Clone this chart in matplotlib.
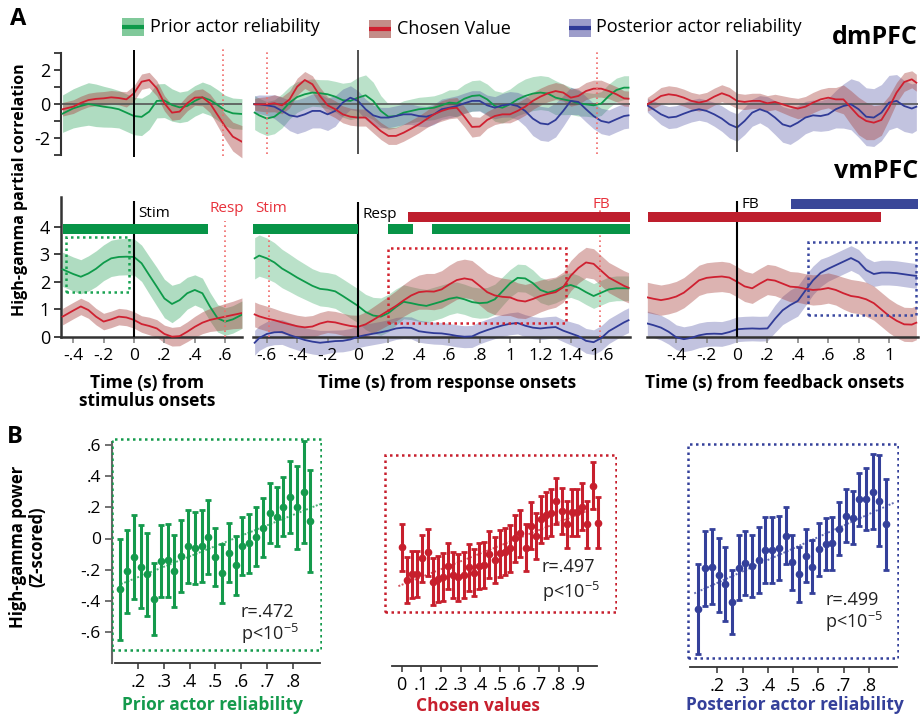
import matplotlib.pyplot as plt
import numpy as np
from matplotlib.patches import Rectangle

plt.rcParams['font.family'] = ['Open Sans', 'DejaVu Sans']
plt.rcParams['mathtext.fontset'] = 'custom'
plt.rcParams['mathtext.rm'] = 'Open Sans'
plt.rcParams['mathtext.it'] = 'Open Sans:italic'
plt.rcParams['mathtext.bf'] = 'Open Sans:bold'

# ---------------- data: panel A (time courses) ----------------
# stimulus-locked
t_stim = [-0.47, -0.40, -0.35, -0.30, -0.25, -0.20, -0.15, -0.10, -0.05, 0.00, 0.05, 0.10,
          0.15, 0.20, 0.25, 0.30, 0.35, 0.40, 0.45, 0.50, 0.55, 0.60, 0.65, 0.71]
dm_green_stim = [-0.55, -0.24, -0.10, 0.02, -0.06, -0.14, -0.20, -0.29, -0.49, -0.69, -0.74, -0.43,
                 0.20, 0.22, -0.04, -0.18, -0.10, 0.20, 0.41, 0.25, -0.04, -0.37, -0.53, -0.57]
dm_green_stim_sem = [1.1, 1.15, 1.2, 1.25, 1.25, 1.2, 1.15, 1.1, 1.1, 1.1, 1.1, 1.05,
                     1.0, 1.0, 0.95, 0.9, 0.9, 0.9, 0.9, 0.9, 0.9, 0.9, 0.9, 0.9]
dm_red_stim = [-0.29, -0.14, 0.08, 0.25, 0.32, 0.35, 0.41, 0.37, 0.29, 0.65, 1.33, 1.43,
               0.94, 0.06, -0.49, -0.43, 0.06, 0.39, 0.41, 0.06, -0.63, -1.31, -1.90, -2.20]
dm_red_stim_sem = [0.4, 0.4, 0.4, 0.4, 0.4, 0.4, 0.4, 0.4, 0.45, 0.45, 0.45, 0.45,
                   0.45, 0.45, 0.45, 0.45, 0.45, 0.45, 0.5, 0.55, 0.65, 0.75, 0.85, 0.95]
vm_green_stim = [2.45, 2.28, 2.18, 2.30, 2.47, 2.69, 2.85, 2.90, 2.91, 2.90, 2.67, 2.24,
                 1.82, 1.39, 1.19, 1.33, 1.58, 1.70, 1.58, 1.09, 0.67, 0.55, 0.63, 0.80]
vm_green_stim_sem = [0.62, 0.62, 0.62, 0.64, 0.65, 0.65, 0.66, 0.66, 0.66, 0.66, 0.66, 0.68,
                     0.7, 0.7, 0.68, 0.62, 0.58, 0.55, 0.55, 0.52, 0.5, 0.5, 0.5, 0.5]
vm_red_stim = [0.73, 0.95, 1.10, 0.97, 0.73, 0.55, 0.63, 0.73, 0.70, 0.61, 0.46, 0.39,
               0.30, 0.10, 0.00, 0.02, 0.18, 0.36, 0.51, 0.61, 0.67, 0.73, 0.79, 0.86]
vm_red_stim_sem = [0.3, 0.3, 0.3, 0.3, 0.3, 0.3, 0.3, 0.3, 0.3, 0.3, 0.3, 0.32,
                   0.32, 0.32, 0.34, 0.35, 0.36, 0.38, 0.4, 0.42, 0.45, 0.48, 0.5, 0.55]

# response-locked
t_resp = [-0.68, -0.65, -0.60, -0.55, -0.50, -0.45, -0.40, -0.35, -0.30, -0.25, -0.20, -0.15,
          -0.10, -0.05, 0.00, 0.05, 0.10, 0.15, 0.20, 0.25, 0.30, 0.35, 0.40, 0.45, 0.50, 0.55,
          0.60, 0.65, 0.70, 0.75, 0.80, 0.85, 0.90, 0.95, 1.00, 1.05, 1.10, 1.15, 1.20, 1.25,
          1.30, 1.35, 1.40, 1.45, 1.50, 1.55, 1.60, 1.65, 1.70, 1.75, 1.78]
dm_red_resp = [0, 0, 0, 0.06, -0.06, 0.29, 1.04, 1.43, 1.18, 0.49, -0.06, -0.29,
               -0.59, -0.73, -0.78, -0.78, -1.18, -1.57, -1.86, -1.86, -1.67, -1.43, -1.18, -0.88, -0.59, -0.39,
               -0.25, -0.20, -0.73, -1.33, -1.31, -0.92, -0.69, -0.59, -0.59, -0.39, -0.14, 0.20, 0.45, 0.65,
               0.78, 0.69, 0.39, 0.49, 0.78, 0.92, 0.92, 0.78, 0.59, 0.35, 0.33]
dm_red_resp_sem = [0.35, 0.4, 0.45, 0.5, 0.5, 0.5, 0.5, 0.5, 0.5, 0.5, 0.5, 0.5,
                   0.5, 0.5, 0.5, 0.5, 0.5, 0.5, 0.5, 0.5, 0.5, 0.5, 0.5, 0.5, 0.55, 0.6,
                   0.6, 0.6, 0.6, 0.6, 0.55, 0.5, 0.5, 0.5, 0.5, 0.5, 0.5, 0.5, 0.5, 0.5,
                   0.5, 0.5, 0.5, 0.5, 0.5, 0.5, 0.5, 0.45, 0.45, 0.45, 0.45]
dm_green_resp = [-0.49, -0.65, -0.84, -0.73, -0.39, 0.10, 0.43, 0.59, 0.69, 0.65, 0.59, 0.45,
                 0.24, 0.20, 0.39, 0.53, 0.20, -0.39, -0.73, -0.69, -0.49, -0.39, -0.29, -0.25, -0.20, -0.06,
                 0.10, 0.06, 0.33, 0.49, 0.53, 0.29, -0.10, -0.20, 0.00, 0.29, 0.49, 0.63, 0.69, 0.63,
                 0.39, 0.29, 0.20, 0.06, 0.00, -0.06, 0.04, 0.49, 0.84, 0.98, 0.98]
dm_green_resp_sem = [1.0, 1.0, 1.0, 1.0, 1.0, 0.95, 0.9, 0.85, 0.8, 0.8, 0.85, 0.9,
                     1.0, 1.1, 1.2, 1.2, 1.1, 0.9, 0.75, 0.7, 0.7, 0.7, 0.7, 0.7, 0.7, 0.7,
                     0.75, 0.8, 0.85, 0.9, 0.9, 0.9, 0.9, 0.9, 0.9, 0.95, 1.0, 1.0, 1.0, 1.0,
                     1.0, 0.9, 0.8, 0.75, 0.7, 0.7, 0.7, 0.7, 0.7, 0.7, 0.7]
dm_blue_resp = [0, 0, -0.06, -0.14, -0.39, -0.65, -0.73, -0.59, -0.39, -0.39, -0.59, -0.39,
                0.10, 0.39, 0.20, -0.29, -0.65, -0.78, -0.78, -0.69, -0.59, -0.59, -0.69, -0.73, -0.59, -0.29,
                -0.20, -0.10, 0.06, 0.20, 0.20, -0.06, -0.20, -0.06, 0.00, -0.10, -0.39, -0.84, -1.12, -1.18,
                -0.92, -0.39, 0.20, 0.14, -0.29, -0.69, -0.98, -1.08, -0.88, -0.69, -0.65]
dm_blue_resp_sem = [0.5, 0.55, 0.6, 0.7, 0.8, 0.9, 1.0, 1.0, 1.0, 1.0, 0.95, 0.9,
                    0.8, 0.7, 0.6, 0.6, 0.6, 0.6, 0.6, 0.6, 0.6, 0.6, 0.6, 0.6, 0.6, 0.6,
                    0.6, 0.6, 0.6, 0.6, 0.6, 0.6, 0.65, 0.7, 0.75, 0.8, 0.9, 1.0, 1.0, 1.0,
                    1.0, 0.9, 0.8, 0.75, 0.75, 0.75, 0.75, 0.75, 0.75, 0.75, 0.75]
vm_green_resp = [2.85, 2.95, 2.85, 2.70, 2.48, 2.32, 2.15, 2.00, 1.85, 1.74, 1.71, 1.65,
                 1.48, 1.30, 1.12, 0.90, 0.77, 0.73, 0.86, 1.08, 1.27, 1.22, 1.16, 1.12, 1.20, 1.28,
                 1.38, 1.43, 1.36, 1.26, 1.22, 1.24, 1.36, 1.65, 1.94, 2.14, 2.12, 1.95, 1.70, 1.60,
                 1.68, 1.82, 1.88, 1.78, 1.62, 1.48, 1.60, 1.72, 1.76, 1.76, 1.76]
vm_green_resp_sem = [0.75, 0.75, 0.74, 0.72, 0.7, 0.68, 0.66, 0.64, 0.62, 0.62, 0.62, 0.62,
                     0.62, 0.62, 0.62, 0.64, 0.66, 0.68, 0.68, 0.66, 0.62, 0.6, 0.6, 0.6, 0.6, 0.6,
                     0.58, 0.56, 0.55, 0.55, 0.55, 0.55, 0.55, 0.52, 0.5, 0.5, 0.5, 0.48, 0.46, 0.45,
                     0.45, 0.45, 0.45, 0.45, 0.45, 0.45, 0.45, 0.45, 0.45, 0.45, 0.45]
vm_red_resp = [0.81, 0.74, 0.66, 0.60, 0.52, 0.45, 0.38, 0.34, 0.37, 0.48, 0.55, 0.52,
               0.45, 0.39, 0.36, 0.45, 0.61, 0.78, 0.95, 1.12, 1.32, 1.50, 1.62, 1.65, 1.64, 1.72,
               1.90, 2.06, 2.12, 2.07, 1.85, 1.62, 1.50, 1.45, 1.43, 1.32, 1.28, 1.37, 1.48, 1.56,
               1.62, 1.80, 2.22, 2.50, 2.70, 2.65, 2.40, 2.15, 2.00, 1.85, 1.78]
vm_red_resp_sem = [0.45, 0.45, 0.45, 0.42, 0.4, 0.4, 0.4, 0.4, 0.4, 0.4, 0.4, 0.4,
                   0.4, 0.4, 0.42, 0.45, 0.48, 0.5, 0.52, 0.55, 0.58, 0.6, 0.62, 0.65, 0.66, 0.68,
                   0.7, 0.7, 0.7, 0.7, 0.7, 0.7, 0.7, 0.68, 0.66, 0.64, 0.62, 0.6, 0.58, 0.56,
                   0.55, 0.55, 0.55, 0.55, 0.55, 0.55, 0.55, 0.55, 0.55, 0.55, 0.55]
vm_blue_resp = [-0.22, -0.05, 0.10, 0.16, 0.17, 0.06, -0.03, -0.12, -0.18, -0.22, -0.19, -0.16,
                -0.15, -0.10, 0.00, 0.06, 0.11, 0.16, 0.22, 0.30, 0.33, 0.32, 0.20, 0.16, 0.13, 0.12,
                0.08, 0.03, 0.00, 0.01, 0.14, 0.24, 0.33, 0.41, 0.47, 0.50, 0.40, 0.33, 0.30, 0.33,
                0.35, 0.22, 0.12, 0.02, -0.15, -0.20, -0.05, 0.20, 0.36, 0.52, 0.60]
vm_blue_resp_sem = [0.45, 0.45, 0.45, 0.45, 0.45, 0.45, 0.45, 0.45, 0.45, 0.45, 0.42, 0.4,
                    0.4, 0.4, 0.4, 0.4, 0.4, 0.4, 0.4, 0.4, 0.4, 0.4, 0.4, 0.4, 0.4, 0.4,
                    0.4, 0.4, 0.4, 0.4, 0.4, 0.4, 0.4, 0.4, 0.4, 0.4, 0.4, 0.4, 0.4, 0.4,
                    0.4, 0.4, 0.42, 0.44, 0.45, 0.45, 0.45, 0.45, 0.45, 0.45, 0.45]

# feedback-locked
t_fb = [-0.59, -0.55, -0.50, -0.45, -0.40, -0.35, -0.30, -0.25, -0.20, -0.15, -0.10, -0.05,
        0.00, 0.05, 0.10, 0.15, 0.20, 0.25, 0.30, 0.35, 0.40, 0.45, 0.50, 0.55, 0.60, 0.65,
        0.70, 0.75, 0.80, 0.85, 0.90, 0.95, 1.00, 1.05, 1.10, 1.15, 1.18]
dm_red_fb = [0.00, 0.20, 0.49, 0.59, 0.53, 0.39, 0.20, 0.10, 0.20, 0.45, 0.65, 0.49,
             0.20, 0.14, 0.20, 0.20, 0.06, 0.14, 0.00, -0.14, -0.25, -0.14, 0.10, 0.29, 0.39, 0.29,
             0.29, -0.20, -0.69, -0.98, -1.08, -0.92, -0.20, 0.69, 1.31, 1.47, 1.27]
dm_red_fb_sem = [0.4, 0.45, 0.5, 0.5, 0.5, 0.5, 0.5, 0.5, 0.5, 0.5, 0.5, 0.5,
                 0.45, 0.45, 0.45, 0.45, 0.45, 0.45, 0.5, 0.55, 0.6, 0.6, 0.6, 0.6, 0.6, 0.7,
                 0.85, 1.0, 1.1, 1.1, 1.0, 0.9, 0.7, 0.6, 0.55, 0.5, 0.5]
dm_blue_fb = [-0.06, -0.29, -0.59, -0.78, -0.73, -0.55, -0.39, -0.29, -0.39, -0.59, -0.84, -1.18,
              -1.37, -0.98, -0.49, -0.29, -0.45, -0.78, -1.18, -1.31, -1.08, -0.78, -0.65, -0.69, -0.59, -0.29,
              -0.10, 0.00, -0.29, -0.73, -0.78, -0.49, 0.10, 0.20, -0.10, -0.25, -0.14]
dm_blue_fb_sem = [0.4, 0.5, 0.6, 0.65, 0.65, 0.65, 0.65, 0.65, 0.65, 0.7, 0.75, 0.8,
                  0.8, 0.8, 0.8, 0.8, 0.9, 1.0, 1.05, 1.05, 1.0, 0.95, 0.9, 0.9, 0.95, 1.1,
                  1.3, 1.5, 1.65, 1.7, 1.7, 1.65, 1.6, 1.55, 1.5, 1.45, 1.4]
vm_red_fb = [1.43, 1.38, 1.33, 1.38, 1.46, 1.60, 1.82, 2.05, 2.14, 2.17, 2.19, 2.15,
             2.00, 1.83, 1.76, 1.93, 2.08, 2.04, 1.93, 1.82, 1.80, 1.74, 1.70, 1.72, 1.77, 1.70,
             1.58, 1.48, 1.44, 1.36, 1.22, 0.99, 0.76, 0.58, 0.45, 0.44, 0.51]
vm_red_fb_sem = [0.55, 0.55, 0.55, 0.55, 0.55, 0.55, 0.55, 0.55, 0.55, 0.55, 0.55, 0.55,
                 0.55, 0.55, 0.55, 0.55, 0.55, 0.55, 0.55, 0.55, 0.55, 0.55, 0.55, 0.55, 0.55, 0.55,
                 0.58, 0.6, 0.6, 0.62, 0.62, 0.62, 0.62, 0.62, 0.62, 0.62, 0.62]
vm_blue_fb = [0.48, 0.42, 0.33, 0.18, -0.02, -0.09, -0.04, 0.05, 0.10, 0.11, 0.10, 0.17,
              0.27, 0.29, 0.30, 0.29, 0.30, 0.65, 0.96, 1.15, 1.30, 1.68, 2.05, 2.32, 2.47, 2.60,
              2.73, 2.86, 2.72, 2.42, 2.28, 2.33, 2.33, 2.31, 2.27, 2.23, 2.21]
vm_blue_fb_sem = [0.45, 0.45, 0.45, 0.45, 0.45, 0.45, 0.45, 0.45, 0.45, 0.45, 0.45, 0.45,
                  0.45, 0.45, 0.45, 0.45, 0.45, 0.5, 0.52, 0.55, 0.55, 0.55, 0.52, 0.5, 0.45, 0.45,
                  0.45, 0.45, 0.45, 0.45, 0.45, 0.45, 0.45, 0.45, 0.45, 0.45, 0.45]

# significance bars (start, end) in seconds
sig_green_stim = [(-0.47, 0.49)]
sig_green_resp = [(-0.69, 0.0), (0.2, 0.36), (0.49, 1.79)]
sig_red_resp = [(0.33, 1.79)]
sig_red_fb = [(-0.585, 0.947)]
sig_blue_fb = [(0.355, 1.19)]

# ---------------- data: panel B (binned correlations) ----------------
prior_x = [0.13, 0.157, 0.183, 0.21, 0.236, 0.262, 0.289, 0.315, 0.341, 0.368, 0.394, 0.42,
           0.447, 0.473, 0.5, 0.526, 0.552, 0.579, 0.605, 0.631, 0.658, 0.684, 0.71, 0.737,
           0.763, 0.789, 0.816, 0.842, 0.868]
prior_y = [-0.325, -0.21, -0.118, -0.18, -0.23, -0.39, -0.143, -0.14, -0.207, -0.113, -0.05, -0.06,
           -0.05, 0.011, -0.118, -0.224, -0.09, -0.17, -0.05, -0.032, 0.011, 0.068, 0.164, 0.139,
           0.203, 0.267, 0.199, 0.299, 0.113]
prior_err = [0.325, 0.267, 0.267, 0.267, 0.265, 0.23, 0.232, 0.232, 0.23, 0.233, 0.235, 0.232,
             0.232, 0.238, 0.187, 0.188, 0.192, 0.189, 0.187, 0.192, 0.19, 0.189, 0.192, 0.189,
             0.19, 0.231, 0.267, 0.327, 0.329]

chosen_x = [0.0, 0.026, 0.053, 0.079, 0.105, 0.132, 0.158, 0.184, 0.211, 0.237, 0.263, 0.289,
            0.316, 0.342, 0.368, 0.395, 0.421, 0.447, 0.474, 0.5, 0.526, 0.553, 0.579, 0.605,
            0.632, 0.658, 0.684, 0.711, 0.737, 0.763, 0.789, 0.816, 0.842, 0.868, 0.895, 0.921,
            0.947, 0.974, 1.0]
chosen_y = [-0.057, -0.266, -0.230, -0.228, -0.127, -0.089, -0.277, -0.260, -0.245, -0.176, -0.234, -0.249,
            -0.234, -0.185, -0.219, -0.176, -0.170, -0.101, -0.138, -0.095, -0.084, -0.063, 0.001, 0.033,
            -0.059, 0.082, 0.016, 0.123, 0.151, 0.166, 0.240, 0.176, 0.091, 0.168, 0.168, 0.204,
            0.091, 0.339, 0.101]
chosen_err = [0.15, 0.15, 0.15, 0.15, 0.15, 0.15, 0.15, 0.15, 0.155, 0.15, 0.15, 0.15,
              0.15, 0.15, 0.15, 0.15, 0.15, 0.15, 0.15, 0.15, 0.15, 0.15, 0.15, 0.15,
              0.15, 0.15, 0.15, 0.15, 0.15, 0.15, 0.15, 0.15, 0.15, 0.15, 0.15, 0.15,
              0.15, 0.15, 0.165]

post_x = [0.125, 0.152, 0.178, 0.205, 0.231, 0.258, 0.284, 0.311, 0.337, 0.364, 0.39, 0.417,
          0.443, 0.47, 0.496, 0.523, 0.549, 0.576, 0.602, 0.629, 0.655, 0.682, 0.708, 0.735,
          0.761, 0.788, 0.814, 0.841, 0.867]
post_y = [-0.426, -0.166, -0.155, -0.208, -0.266, -0.384, -0.161, -0.134, -0.151, -0.112, -0.048, -0.048,
          -0.033, 0.044, -0.127, -0.204, -0.084, -0.155, -0.044, -0.010, -0.005, 0.087, 0.172, 0.159,
          0.277, 0.279, 0.326, 0.268, 0.116]
post_err = [0.29, 0.24, 0.24, 0.24, 0.24, 0.205, 0.21, 0.205, 0.2, 0.21, 0.21, 0.21,
            0.205, 0.185, 0.175, 0.175, 0.17, 0.17, 0.17, 0.165, 0.17, 0.17, 0.17, 0.17,
            0.17, 0.2, 0.24, 0.29, 0.29]

# ---------------- style ----------------
GREEN, RED, BLUE = '#0e9a4a', '#cf2030', '#303b97'
GREEN_F, RED_F, BLUE_F = '#2ea55c', '#a8423e', '#474a9f'
BAR_G, BAR_R, BAR_B = '#079447', '#be1e2d', '#3a4798'
EVENT_RED = '#f06a6a'
W, H = 921, 716
PX_S = 152  # pixels per second on all time axes
TICK_FS = 12

fig = plt.figure(figsize=(W / 100, H / 100), dpi=100)


def px_axes(left, top, width, height):
    return fig.add_axes([left / W, 1 - (top + height) / H, width / W, height / H])


def short(v):
    s = f'{v:g}'
    return s.replace('0.', '.') if abs(v) < 1 else s


def band(ax, t, m, s, lc, fc, a):
    m, s = np.array(m), np.array(s)
    ax.fill_between(t, m - s, m + s, color=fc, alpha=a, lw=0, zorder=1)
    return ax.plot(t, m, color=lc, lw=1.3, zorder=3)


def clean(ax):
    for sp in ax.spines.values():
        sp.set_visible(False)
    ax.set_xticks([])
    ax.set_yticks([])


# ---------------- panel A: dmPFC row ----------------
top_y0, top_h = 104.3 - 3.3 * 17, 6.6 * 17
lim_stim, lim_resp, lim_fb = (-0.48, 0.71), (-0.69, 1.79), (-0.59, 1.19)
zero_px = {'stim': 134, 'resp': 358, 'fb': 737}


def time_axes(key, lim, top, height):
    left = zero_px[key] + lim[0] * PX_S
    ax = px_axes(left, top, (lim[1] - lim[0]) * PX_S, height)
    ax.set_xlim(*lim)
    ax.patch.set_alpha(0)
    clean(ax)
    return ax


ax = time_axes('stim', lim_stim, top_y0, top_h)
ax.set_ylim(-3.3, 3.3)
band(ax, t_stim, dm_green_stim, dm_green_stim_sem, GREEN, GREEN_F, 0.38)
band(ax, t_stim, dm_red_stim, dm_red_stim_sem, RED, RED_F, 0.42)
ax.axhline(0, color='#555555', lw=1.2, zorder=2)
ax.vlines(0, -3.1, 3.2, color='k', lw=1.4, zorder=4)
ax.vlines(0.585, -3.05, 3.4, color=EVENT_RED, lw=1.2, linestyles=(0, (1, 2)), zorder=4)
ax.spines['left'].set_visible(True)
ax.spines['left'].set_bounds(-3, 3)
ax.spines['left'].set_color('#333333')
ax.spines['left'].set_linewidth(1.5)
ax.set_yticks([-3, -2, -1, 0, 1, 2, 3])
ax.set_yticklabels(['', '-2', '', '0', '', '2', ''], fontsize=TICK_FS + 1)
ax.tick_params(axis='y', length=5, width=1.3, color='#333333', pad=3)

ax = time_axes('resp', lim_resp, top_y0, top_h)
ax.set_ylim(-3.3, 3.3)
band(ax, t_resp, dm_green_resp, dm_green_resp_sem, GREEN, GREEN_F, 0.33)
band(ax, t_resp, dm_blue_resp, dm_blue_resp_sem, BLUE, BLUE_F, 0.33)
band(ax, t_resp, dm_red_resp, dm_red_resp_sem, RED, RED_F, 0.4)
ax.axhline(0, color='#555555', lw=1.2, zorder=2)
ax.vlines(0, -2.9, 3.2, color='#333333', lw=1.2, zorder=4)
ax.vlines([-0.6, 1.57], -2.9, 3.1, color=EVENT_RED, lw=1.2, linestyles=(0, (1, 2)), zorder=4)

ax = time_axes('fb', lim_fb, top_y0, top_h)
ax.set_ylim(-3.3, 3.3)
band(ax, t_fb, dm_blue_fb, dm_blue_fb_sem, BLUE, BLUE_F, 0.33)
band(ax, t_fb, dm_red_fb, dm_red_fb_sem, RED, RED_F, 0.4)
ax.axhline(0, color='#555555', lw=1.2, zorder=2)
ax.vlines(0, -2.8, 3.2, color='#333333', lw=1.2, zorder=4)

# ---------------- panel A: vmPFC row ----------------
low_y0, low_h = 336.7 - 5.2 * 27.5, 5.95 * 27.5


def low_common(ax, ticks):
    ax.set_ylim(-0.75, 5.2)
    ax.spines['bottom'].set_visible(True)
    ax.spines['bottom'].set_position(('data', 0))
    ax.spines['bottom'].set_color('#333333')
    ax.spines['bottom'].set_linewidth(1.8)
    ax.set_xticks(ticks)
    ax.set_xticklabels([short(v) for v in ticks], fontsize=TICK_FS + 0.5)
    ax.tick_params(axis='x', length=4, width=1.2, color='#888888', pad=4)


def sig(ax, spans, y, color):
    for a, b in spans:
        ax.barh(y, b - a, left=a, height=0.36, color=color, lw=0, zorder=5)


def box(ax, x0, x1, y0, y1, color):
    ax.add_patch(Rectangle((x0, y0), x1 - x0, y1 - y0, fill=False, ec=color, lw=1.8,
                           ls=(0, (1, 1.4)), zorder=6))


ax = time_axes('stim', lim_stim, low_y0, low_h)
low_common(ax, [-0.4, -0.2, 0, 0.2, 0.4, 0.6])
band(ax, t_stim, vm_green_stim, vm_green_stim_sem, GREEN, GREEN_F, 0.38)
band(ax, t_stim, vm_red_stim, vm_red_stim_sem, RED, RED_F, 0.42)
ax.spines['left'].set_visible(True)
ax.spines['left'].set_bounds(0, 5.07)
ax.spines['left'].set_color('#333333')
ax.spines['left'].set_linewidth(1.8)
ax.set_yticks([0, 1, 2, 3, 4])
ax.set_yticklabels(['0', '1', '2', '3', '4'], fontsize=TICK_FS + 1)
ax.tick_params(axis='y', length=5, width=1.3, color='#333333', pad=3)
ax.vlines(0, 0, 4.95, color='k', lw=1.5, zorder=4)
ax.vlines(0.6, 0, 4.2, color=EVENT_RED, lw=1.2, linestyles=(0, (1, 2)), zorder=4)
sig(ax, sig_green_stim, 3.93, BAR_G)
box(ax, -0.45, -0.03, 1.63, 3.63, '#19a352')
ax.text(0.03, 4.48, 'Stim', fontsize=11, va='center', ha='left')
ax.text(0.61, 4.67, 'Resp', fontsize=11, va='center', ha='center', color='#e8323c')

ax = time_axes('resp', lim_resp, low_y0, low_h)
low_common(ax, [-0.6, -0.4, -0.2, 0, 0.2, 0.4, 0.6, 0.8, 1, 1.2, 1.4, 1.6])
band(ax, t_resp, vm_green_resp, vm_green_resp_sem, GREEN, GREEN_F, 0.33)
band(ax, t_resp, vm_blue_resp, vm_blue_resp_sem, BLUE, BLUE_F, 0.33)
band(ax, t_resp, vm_red_resp, vm_red_resp_sem, RED, RED_F, 0.4)
ax.vlines(0, 0, 4.9, color='k', lw=1.5, zorder=4)
ax.vlines(-0.585, 0, 4.0, color=EVENT_RED, lw=1.2, linestyles=(0, (1, 2)), zorder=4)
ax.vlines(1.59, 0, 4.6, color=EVENT_RED, lw=1.2, linestyles=(0, (1, 2)), zorder=4)
sig(ax, sig_green_resp, 3.93, BAR_G)
sig(ax, sig_red_resp, 4.35, BAR_R)
box(ax, 0.2, 1.37, 0.51, 3.23, '#d2232f')
ax.text(-0.57, 4.67, 'Stim', fontsize=11, va='center', ha='center', color='#e8323c')
ax.text(0.03, 4.45, 'Resp', fontsize=11, va='center', ha='left')
ax.text(1.6, 4.82, 'FB', fontsize=11, va='center', ha='center', color='#e8323c')

ax = time_axes('fb', lim_fb, low_y0, low_h)
low_common(ax, [-0.4, -0.2, 0, 0.2, 0.4, 0.6, 0.8, 1])
band(ax, t_fb, vm_blue_fb, vm_blue_fb_sem, BLUE, BLUE_F, 0.33)
band(ax, t_fb, vm_red_fb, vm_red_fb_sem, RED, RED_F, 0.4)
ax.vlines(0, 0, 4.95, color='k', lw=1.5, zorder=4)
sig(ax, sig_red_fb, 4.36, BAR_R)
sig(ax, sig_blue_fb, 4.82, BAR_B)
box(ax, 0.47, 1.18, 0.79, 3.45, '#3a48a0')
ax.text(0.03, 4.82, 'FB', fontsize=11, va='center', ha='left')

# ---------------- panel B ----------------


def scatter_panel(left, top, width, xlim, x, y, err, color, ticks, spine_x, box_xy,
                  fit_x, r_txt, txt_xy, show_y=False, spine_y=-0.8):
    ax = px_axes(left, top, width, 1.48 * 156)
    ax.set_xlim(*xlim)
    ax.set_ylim(-0.82, 0.66)
    ax.patch.set_alpha(0)
    for sp in ax.spines.values():
        sp.set_visible(False)
    ax.spines['bottom'].set_visible(True)
    ax.spines['bottom'].set_position(('data', spine_y))
    ax.spines['bottom'].set_bounds(*spine_x)
    ax.spines['bottom'].set_color('#333333')
    ax.spines['bottom'].set_linewidth(1.3)
    ax.set_xticks(ticks)
    ax.set_xticklabels([short(v) for v in ticks], fontsize=TICK_FS + 1)
    ax.tick_params(axis='x', length=4, width=1.1, color='#333333', pad=3)
    if show_y:
        ax.spines['left'].set_visible(True)
        ax.spines['left'].set_bounds(-0.8, 0.62)
        ax.spines['left'].set_color('#666666')
        ax.spines['left'].set_linewidth(1.5)
        yt = [-0.6, -0.4, -0.2, 0, 0.2, 0.4, 0.6]
        ax.set_yticks(yt)
        ax.set_yticklabels([short(v) for v in yt], fontsize=TICK_FS + 0.5)
        ax.tick_params(axis='y', length=5, width=1.3, color='#666666', pad=3)
    else:
        ax.set_yticks([])
    ax.errorbar(x, y, yerr=err, fmt='o', ms=4.5, color=color, ecolor=color, elinewidth=2.2,
                capsize=2, capthick=2, zorder=4)
    k, b = np.polyfit(x, y, 1)
    fx = np.array(fit_x)
    ax.plot(fx, k * fx + b, color=color, lw=1.4, ls=(0, (1, 0.8)), alpha=0.75, zorder=3)
    bx0, bx1, by0, by1 = box_xy
    ax.add_patch(Rectangle((bx0, by0), bx1 - bx0, by1 - by0, fill=False, ec=color, lw=1.8,
                           ls=(0, (1, 1.4)), zorder=6))
    tx, ty1, ty2 = txt_xy
    ax.text(tx, ty1, r_txt, fontsize=13, va='center', ha='left', color='#222222')
    ax.text(tx, ty2, r'p<10$^{-5}$', fontsize=13, va='center', ha='left', color='#222222')
    return ax


scatter_panel(111.9, 538.5 - 0.66 * 156, 209.8, (0.099, 0.912), prior_x, prior_y, prior_err,
              '#149a4c', [0.2, 0.3, 0.4, 0.5, 0.6, 0.7, 0.8], (0.111, 0.905),
              (0.099, 0.909, -0.716, 0.641), (0.134, 0.905), 'r=.472', (0.598, -0.47, -0.615),
              show_y=True)
scatter_panel(384.1, 538.5 - 0.66 * 156, 233.2, (-0.09, 1.10), chosen_x, chosen_y, chosen_err,
              '#c71f2d', [0, 0.1, 0.2, 0.3, 0.4, 0.5, 0.6, 0.7, 0.8, 0.9], (-0.051, 0.995),
              (-0.085, 1.093, -0.469, 0.535), (-0.017, 0.995), 'r=.497', (0.714, -0.185, -0.345),
              spine_y=-0.82)
scatter_panel(686.9, 542.5 - 0.66 * 156, 212.5, (0.08, 0.92), post_x, post_y, post_err,
              '#34409a', [0.2, 0.3, 0.4, 0.5, 0.6, 0.7, 0.8], (0.092, 0.909),
              (0.083, 0.915, -0.743, 0.631), (0.109, 0.902), 'r=.499', (0.626, -0.37, -0.51))

# ---------------- figure-level labels (pixel overlay) ----------------
ov = fig.add_axes([0, 0, 1, 1])
ov.set_xlim(0, W)
ov.set_ylim(H, 0)
ov.axis('off')
ov.patch.set_alpha(0)

legend_items = [(121.5, 26.5, '#80c99a', GREEN, 'Prior actor reliability', 150),
                (369, 29, '#c48c88', RED, 'Chosen Value', 397),
                (569, 27.5, '#9d9dca', BLUE, 'Posterior actor reliability', 596)]
for x0, yc, fc, lc, label, tx in legend_items:
    ov.add_patch(Rectangle((x0, yc - 9), 22, 18, color=fc, lw=0))
    ov.plot([x0, x0 + 22], [yc, yc], color=lc, lw=3, solid_capstyle='butt')
    ov.text(tx, yc, label, fontsize=13, va='center', ha='left')

ov.text(18, 19, 'A', fontsize=17, fontweight='bold', va='center', ha='center')
ov.text(15, 437, 'B', fontsize=17, fontweight='bold', va='center', ha='center')
ov.text(918, 38, 'dmPFC', fontsize=18, fontweight='bold', va='center', ha='right')
ov.text(918, 171, 'vmPFC', fontsize=18, fontweight='bold', va='center', ha='right')
ov.text(20, 190, 'High-gamma partial correlation', fontsize=11.5, fontweight='bold',
        rotation=90, va='center', ha='center')
ov.text(147, 392, 'Time (s) from\nstimulus onsets', fontsize=12.5, fontweight='bold',
        va='center', ha='center', linespacing=1.05)
ov.text(447, 383, 'Time (s) from response onsets', fontsize=12.5, fontweight='bold',
        va='center', ha='center')
ov.text(775, 383, 'Time (s) from feedback onsets', fontsize=12.5, fontweight='bold',
        va='center', ha='center')
ov.text(28, 547, 'High-gamma power\n(Z-scored)', fontsize=12, fontweight='bold',
        rotation=90, va='center', ha='center', linespacing=1.1)
ov.text(212, 705, 'Prior actor reliability', fontsize=12.5, fontweight='bold',
        color='#149a4c', va='center', ha='center')
ov.text(478, 706, 'Chosen values', fontsize=12.5, fontweight='bold',
        color='#c71f2d', va='center', ha='center')
ov.text(795, 705, 'Posterior actor reliability', fontsize=12.5, fontweight='bold',
        color='#34409a', va='center', ha='center')

fig.savefig('out.png', dpi=100)
